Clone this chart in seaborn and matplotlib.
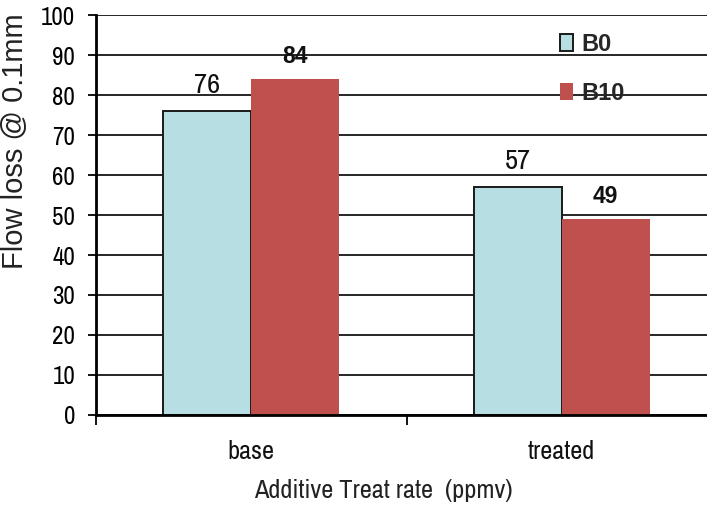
import matplotlib
matplotlib.use("Agg")
import matplotlib.pyplot as plt
from matplotlib.patches import Patch
from matplotlib.ticker import FixedLocator
import seaborn as sns
import pandas as pd

# Flow loss per treat rate and blend
categories = ["base", "treated"]
blends = ["B0", "B10"]
b0_values = [76, 57]
b10_values = [84, 49]
y_ticks = list(range(0, 101, 10))

df = pd.DataFrame({
    "rate": categories * 2,
    "blend": [blends[0]] * 2 + [blends[1]] * 2,
    "loss": b0_values + b10_values,
})

sns.set_theme(style="white")
NARROW = ["Liberation Sans Narrow", "Archivo Narrow", "Liberation Sans", "DejaVu Sans"]
REGULAR = ["Liberation Sans", "DejaVu Sans"]
plt.rcParams["font.family"] = NARROW

colors = {"B0": "#B7DFE3", "B10": "#C0504D"}

fig = plt.figure(figsize=(7.07, 5.09), dpi=100)
ax = fig.add_axes([96 / 707, 1 - 415 / 509, (717 - 96) / 707, (415 - 15) / 509])

sns.barplot(data=df, x="rate", y="loss", hue="blend", order=categories,
            hue_order=blends, palette=colors, width=0.566, saturation=1,
            ax=ax, legend=False, zorder=3)

# outline on the light bars only
for bar in ax.containers[0]:
    bar.set_edgecolor("#1a1a1a")
    bar.set_linewidth(1.4)
for bar in ax.containers[1]:
    bar.set_linewidth(0)

ax.set_xlim(-0.5, 1.5)
ax.set_ylim(0, 100)
ax.set_yticks(y_ticks)
ax.yaxis.grid(True, color="#262626", linewidth=1.4, zorder=0)
ax.set_axisbelow(True)

for s in ["top", "right"]:
    ax.spines[s].set_visible(False)
for s in ["left", "bottom"]:
    ax.spines[s].set_color("black")
    ax.spines[s].set_linewidth(2)
    ax.spines[s].set_zorder(4)

ax.tick_params(axis="y", direction="out", length=6, width=1.3, color="black",
               left=True, labelsize=18, pad=9, labelcolor="black")
ax.tick_params(axis="x", which="major", length=0, labelsize=19, pad=18, labelcolor="#111111")
ax.xaxis.set_minor_locator(FixedLocator([-0.5, 0.5, 1.5]))
ax.tick_params(axis="x", which="minor", direction="out", length=7, width=1.3,
               color="black", bottom=True)

ax.set_ylabel("Flow loss @ 0.1mm", fontsize=21, color="#222222", family=REGULAR)
ax.yaxis.set_label_coords(-0.108, 0.685)
ax.set_xlabel("Additive Treat rate  (ppmv)", fontsize=19, color="#222222")
ax.xaxis.set_label_coords(0.462, -0.16)

# value labels above each bar
for i, v in enumerate(b0_values):
    ax.text(i - 0.1415, v + 4.4, f"{v}", ha="center", va="baseline", fontsize=20.5,
            color="#111111")
for i, v in enumerate(b10_values):
    ax.text(i + 0.1415, v + 4.0, f"{v}", ha="center", va="baseline", fontsize=16.5,
            fontweight="bold", color="#111111", family=REGULAR)

handles = [Patch(facecolor=colors["B0"], edgecolor="#1a1a1a", linewidth=1.4),
           Patch(facecolor=colors["B10"], edgecolor="none")]
leg = fig.legend(handles, blends, loc="upper left",
                 bbox_to_anchor=(560 / 707, 1 - 33 / 509), frameon=False,
                 handlelength=0.56, handleheight=0.72, handletextpad=0.36,
                 labelspacing=1.1, borderpad=0, borderaxespad=0,
                 prop={"size": 17, "weight": "bold", "family": REGULAR})

fig.savefig("out.png", dpi=100)
